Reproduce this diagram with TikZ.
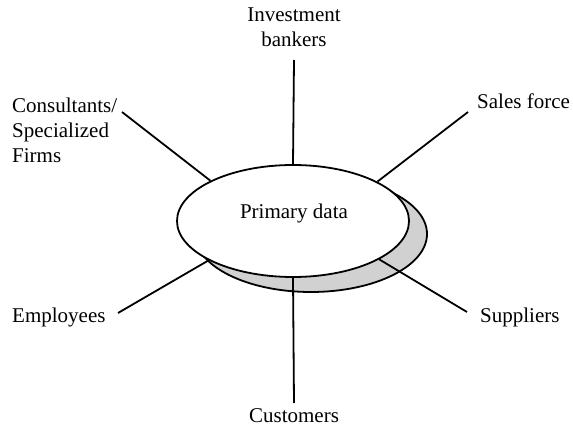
\documentclass[tikz,border=0pt]{standalone}
\usepackage{fontspec}
\setmainfont{Liberation Serif}
\usetikzlibrary{shapes.geometric}
\begin{document}
\begin{tikzpicture}[x=1pt,y=-1pt,
  lbl/.style={inner sep=0pt,font=\fontsize{21}{25}\selectfont},
  conn/.style={line width=1.8pt},
  oval/.style={ellipse,draw,line width=1.8pt,inner sep=0pt}]
\useasboundingbox (0,0) rectangle (573,425);
% shadow and main ellipse
\node[oval,fill=black!18,minimum width=232pt,minimum height=116pt] (sh) at (311,234) {};
\node[oval,fill=white,minimum width=232pt,minimum height=112pt] (pd) at (293,221) {};
\node[lbl,anchor=base] (pdt) at (294,218) {Primary data};
% labels
\node[lbl,anchor=north,align=center] (ib) at (294,8) {Investment\\bankers};
\node[lbl,anchor=north west,align=left] (cs) at (12,97.5) {Consultants/\\Specialized\\Firms};
\node[lbl,anchor=base west] (sf) at (477,109) {Sales force};
\node[lbl,anchor=base west] (em) at (12,322) {Employees};
\node[lbl,anchor=base west] (su) at (480,322) {Suppliers};
\node[lbl,anchor=base] (cu) at (294,422) {Customers};
% connector ends
\coordinate (ibE) at (294,60);
\coordinate (csE) at (122,112);
\coordinate (sfE) at (468,112);
\coordinate (emE) at (118,313);
\coordinate (suE) at (467,312);
\coordinate (cuE) at (294,403);
% connectors
\draw[conn] (ibE) -- (pd.north);
\draw[conn] (csE) -- (pd.154.6);
\draw[conn] (sfE) -- (pd.25.5);
\draw[conn] (emE) -- (pd.205.5);
\draw[conn] (suE) -- (pd.-24.9);
\draw[conn] (cuE) -- (pd.south);
\end{tikzpicture}
\end{document}
